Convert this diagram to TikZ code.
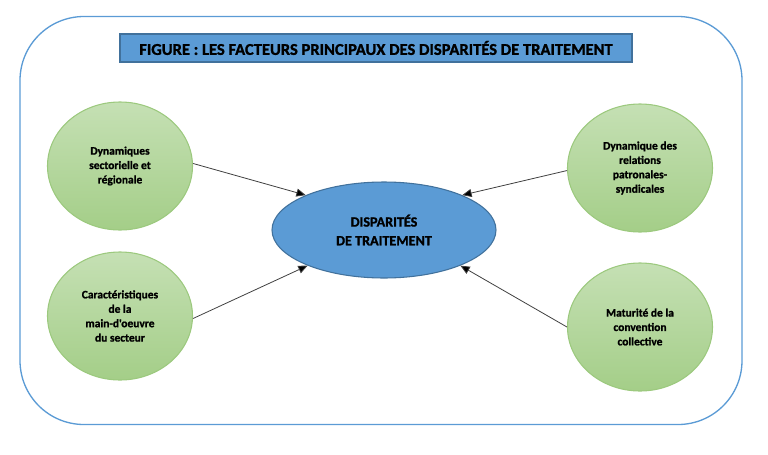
\documentclass[tikz,border=0pt]{standalone}
\usepackage{fontspec}
\setmainfont{Carlito}
\newfontfamily\heavy{Carlito}[BoldFeatures={FakeBold=1.2}]
\usetikzlibrary{shapes.geometric,arrows.meta}
\definecolor{frameblue}{HTML}{5B9BD5}
\definecolor{darkblue}{HTML}{41719C}
\definecolor{greentop}{HTML}{C5E0B4}
\definecolor{greenbot}{HTML}{A4CE88}
\definecolor{greenline}{HTML}{9CC97E}
\definecolor{arrowgray}{HTML}{404040}
\tikzset{
  factor/.style={ellipse, draw=greenline, line width=0.8pt, top color=greentop, bottom color=greenbot,
    minimum width=108.75pt, minimum height=96pt, inner sep=0pt, align=center,
    font=\heavy\fontsize{8.6}{10.8}\selectfont\bfseries},
  centre/.style={ellipse, draw=darkblue, line width=0.8pt, fill=frameblue,
    minimum width=168pt, minimum height=72pt, inner sep=0pt, align=center,
    font=\heavy\fontsize{10.6}{14}\selectfont\bfseries},
  titlebox/.style={rectangle, draw=darkblue, line width=0.8pt, fill=frameblue,
    minimum width=384pt, minimum height=21pt, inner sep=0pt,
    font=\heavy\fontsize{12.4}{14}\selectfont\bfseries},
  link/.style={draw=arrowgray, line width=0.6pt, -{Triangle[length=7pt,width=6pt,fill=black]}}
}
\begin{document}
\begin{tikzpicture}[x=0.75pt,y=-0.75pt]
\useasboundingbox (0,0) rectangle (768,454);
\node[draw=frameblue, line width=1pt, rounded corners=48pt, minimum width=541.5pt, minimum height=306pt, inner sep=0pt] (frame) at (381,220.5) {};
\node[titlebox] (title) at (376,48) {FIGURE : LES FACTEURS PRINCIPAUX DES DISPARITÉS DE TRAITEMENT};
\node[centre] (c) at (384,230) {DISPARITÉS\\DE TRAITEMENT};
\node[factor] (lt) at (120,166) {Dynamiques\\sectorielle et\\régionale};
\node[factor] (lb) at (120,316) {Caractéristiques\\de la\\main-d'oeuvre\\du secteur};
\node[factor] (rt) at (640,168) {Dynamique des\\relations\\patronales-\\syndicales};
\node[factor] (rb) at (640,327) {Maturité de la\\convention\\collective};
\draw[link] (lt.2) -- (c.156);
\draw[link] (lb.-2) -- (c.205);
\draw[link] (rt.182) -- (c.24);
\draw[link] (rb.180) -- (c.-25);
\end{tikzpicture}
\end{document}
